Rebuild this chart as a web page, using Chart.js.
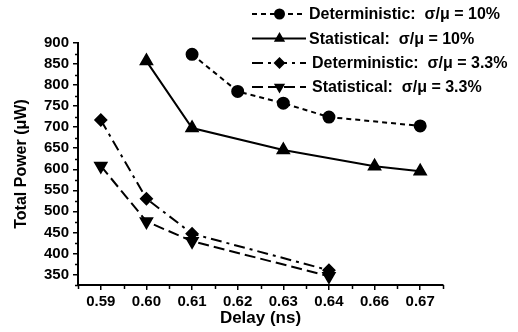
<!DOCTYPE html>
<html>
<head>
<meta charset="utf-8">
<script src="https://cdn.jsdelivr.net/npm/chart.js@4/dist/chart.umd.min.js"></script>
<style>
  html, body { margin: 0; padding: 0; background: #fff; }
  #wrap { width: 518px; height: 332px; }
</style>
</head>
<body>
<div id="wrap"><canvas id="powerChart" width="518" height="332"></canvas></div>
<script>
// data
const delays = ['0.59', '0.60', '0.61', '0.62', '0.63', '0.64', '0.66', '0.67'];
const detHigh = [null, null, 873, 785, 757, 724, null, 703];
const statHigh = [null, 857, 698, null, 646, null, 607, 595];
const detLow = [717, 530, 447, null, null, 360, null, null];
const statLow = [608, 476, 429, null, null, 346, null, null];
const seriesNames = [
    'Deterministic:  \u03c3/\u03bc = 10%',
    'Statistical:  \u03c3/\u03bc = 10%',
    'Deterministic:  \u03c3/\u03bc = 3.3%',
    'Statistical:  \u03c3/\u03bc = 3.3%'
];
const yTicks = [350, 400, 450, 500, 550, 600, 650, 700, 750, 800, 850, 900];

const FONT = "'Liberation Sans', Arial, sans-serif";

function series(label, data, dash, style, rot, radius) {
    return {
        label: label,
        data: data,
        borderColor: '#000',
        backgroundColor: '#000',
        borderWidth: 2,
        borderDash: dash,
        pointStyle: style,
        rotation: rot,
        pointRadius: radius,
        pointHoverRadius: radius,
        spanGaps: true,
        tension: 0
    };
}

// legend drawn inside the plot, top right
const insideLegend = {
    id: 'insideLegend',
    afterDraw(chart) {
        const ctx = chart.ctx;
        const rows = [14, 38.5, 63, 87];
        const textX = [309, 309, 312, 312];
        chart.data.datasets.forEach((ds, i) => {
            const y = rows[i];
            ctx.save();
            ctx.strokeStyle = '#000';
            ctx.fillStyle = '#000';
            ctx.lineWidth = 2;
            ctx.setLineDash(ds.borderDash || []);
            ctx.beginPath();
            ctx.moveTo(252, y);
            ctx.lineTo(306, y);
            ctx.stroke();
            ctx.setLineDash([]);
            Chart.helpers.drawPoint(ctx, {
                pointStyle: ds.pointStyle,
                radius: 4.5,
                rotation: ds.rotation || 0,
                borderWidth: 1
            }, 279.5, y);
            ctx.font = 'bold 16px ' + FONT;
            ctx.textBaseline = 'middle';
            ctx.textAlign = 'left';
            ctx.fillText(ds.label, textX[i], y + 1);
            ctx.restore();
        });
    }
};

// small minor ticks on both axes
const minorTicks = {
    id: 'minorTicks',
    afterDraw(chart) {
        const ctx = chart.ctx;
        const xs = chart.scales.x;
        const ys = chart.scales.y;
        ctx.save();
        ctx.strokeStyle = '#000';
        ctx.lineWidth = 1.5;
        ctx.beginPath();
        const step = xs.getPixelForValue(1) - xs.getPixelForValue(0);
        for (let i = 0; i <= delays.length; i++) {
            const px = Math.round(xs.getPixelForValue(0) - step / 2 + i * step) + 0.5;
            ctx.moveTo(px, ys.bottom);
            ctx.lineTo(px, ys.bottom + 4);
        }
        for (let v = 325; v < 900; v += 50) {
            const py = Math.round(ys.getPixelForValue(v)) + 0.5;
            ctx.moveTo(xs.left - 3, py);
            ctx.lineTo(xs.left, py);
        }
        ctx.stroke();
        ctx.restore();
    }
};

const powerCtx = document.getElementById('powerChart').getContext('2d');

const powerChart = new Chart(powerCtx, {
    type: 'line',
    data: {
        labels: delays,
        datasets: [
            series(seriesNames[0], detHigh, [5, 4], 'circle', 0, 5.5),
            series(seriesNames[1], statHigh, [], 'triangle', 0, 6.5),
            series(seriesNames[2], detLow, [11, 5, 3, 5], 'rectRot', 0, 5.5),
            series(seriesNames[3], statLow, [11, 5], 'triangle', 180, 6.5)
        ]
    },
    options: {
        responsive: false,
        animation: false,
        layout: { padding: { top: 43, right: 75, left: 0, bottom: 0 } },
        plugins: {
            legend: { display: false },
            tooltip: { enabled: false }
        },
        scales: {
            x: {
                type: 'category',
                offset: true,
                afterFit(scale) { scale.height = 47; },
                grid: {
                    drawOnChartArea: false,
                    color: '#000',
                    lineWidth: 1.5,
                    tickLength: 5
                },
                border: { color: '#000', width: 2 },
                ticks: {
                    color: '#000',
                    padding: 3,
                    maxRotation: 0,
                    font: { family: FONT, size: 15, weight: 'bold' }
                },
                title: {
                    display: true,
                    text: 'Delay (ns)',
                    color: '#000',
                    padding: { top: 0, bottom: 3 },
                    font: { family: FONT, size: 17, weight: 'bold' }
                }
            },
            y: {
                min: 325,
                max: 900,
                afterFit(scale) { scale.width = 78; },
                afterBuildTicks(scale) {
                    scale.ticks = yTicks.map(v => ({ value: v }));
                },
                grid: {
                    drawOnChartArea: false,
                    color: '#000',
                    lineWidth: 1.5,
                    tickLength: 5
                },
                border: { color: '#000', width: 2 },
                ticks: {
                    color: '#000',
                    padding: 4,
                    font: { family: FONT, size: 15, weight: 'bold' }
                },
                title: {
                    display: true,
                    text: 'Total Power (\u03bcW)',
                    color: '#000',
                    padding: { top: 12, bottom: 0 },
                    font: { family: FONT, size: 16, weight: 'bold' }
                }
            }
        }
    },
    plugins: [minorTicks, insideLegend]
});
</script>
</body>
</html>
